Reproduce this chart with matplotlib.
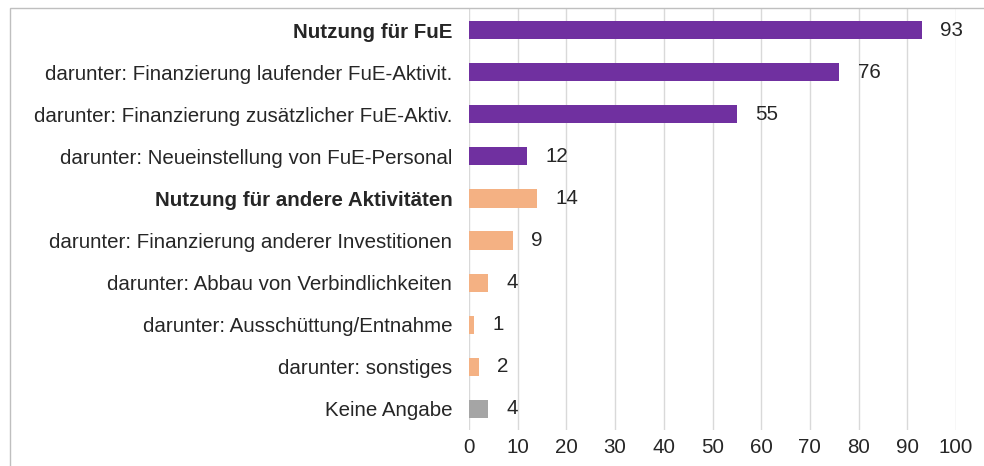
import matplotlib.pyplot as plt
from matplotlib.patches import Rectangle

plt.rcParams['font.family'] = ['Liberation Sans', 'DejaVu Sans']

categories = [
    'Nutzung für FuE',
    'darunter: Finanzierung laufender FuE-Aktivit.',
    'darunter: Finanzierung zusätzlicher FuE-Aktiv.',
    'darunter: Neueinstellung von FuE-Personal',
    'Nutzung für andere Aktivitäten',
    'darunter: Finanzierung anderer Investitionen',
    'darunter: Abbau von Verbindlichkeiten',
    'darunter: Ausschüttung/Entnahme',
    'darunter: sonstiges',
    'Keine Angabe',
]
values = [93, 76, 55, 12, 14, 9, 4, 1, 2, 4]
colors = ['#7030A0'] * 4 + ['#F4B183'] * 5 + ['#A5A5A5']
bold = [True, False, False, False, True, False, False, False, False, False]

fs = 14.8

fig = plt.figure(figsize=(9.84, 4.66), dpi=100)
ax = fig.add_axes([469 / 984, 1 - 430 / 466, 487 / 984, 421 / 466])

y = list(range(len(categories)))
ax.barh(y, values, height=0.43, color=colors, zorder=3)
ax.set_ylim(len(categories) - 0.5, -0.5)
ax.set_xlim(0, 100)
ax.set_xticks(range(0, 101, 10))
ax.grid(axis='x', color='#D9D9D9', linewidth=1, zorder=0)
for s in ax.spines.values():
    s.set_visible(False)
ax.tick_params(axis='both', length=0, labelsize=fs, colors='#262626')
ax.tick_params(axis='x', pad=6)
ax.tick_params(axis='y', pad=12)
ax.set_yticks(y)
ax.set_yticklabels(categories)
for lbl, b in zip(ax.get_yticklabels(), bold):
    if b:
        lbl.set_fontweight('bold')

for yi, v in zip(y, values):
    ax.text(v + 3.8, yi, str(v), va='center', ha='left', fontsize=fs, color='#262626')

fig.patches.append(Rectangle((10 / 984, -0.1), 1.2, 1 - 8 / 466 + 0.1,
                             transform=fig.transFigure, fill=False,
                             edgecolor='#BFBFBF', linewidth=1))

plt.savefig('out.png', dpi=100)
